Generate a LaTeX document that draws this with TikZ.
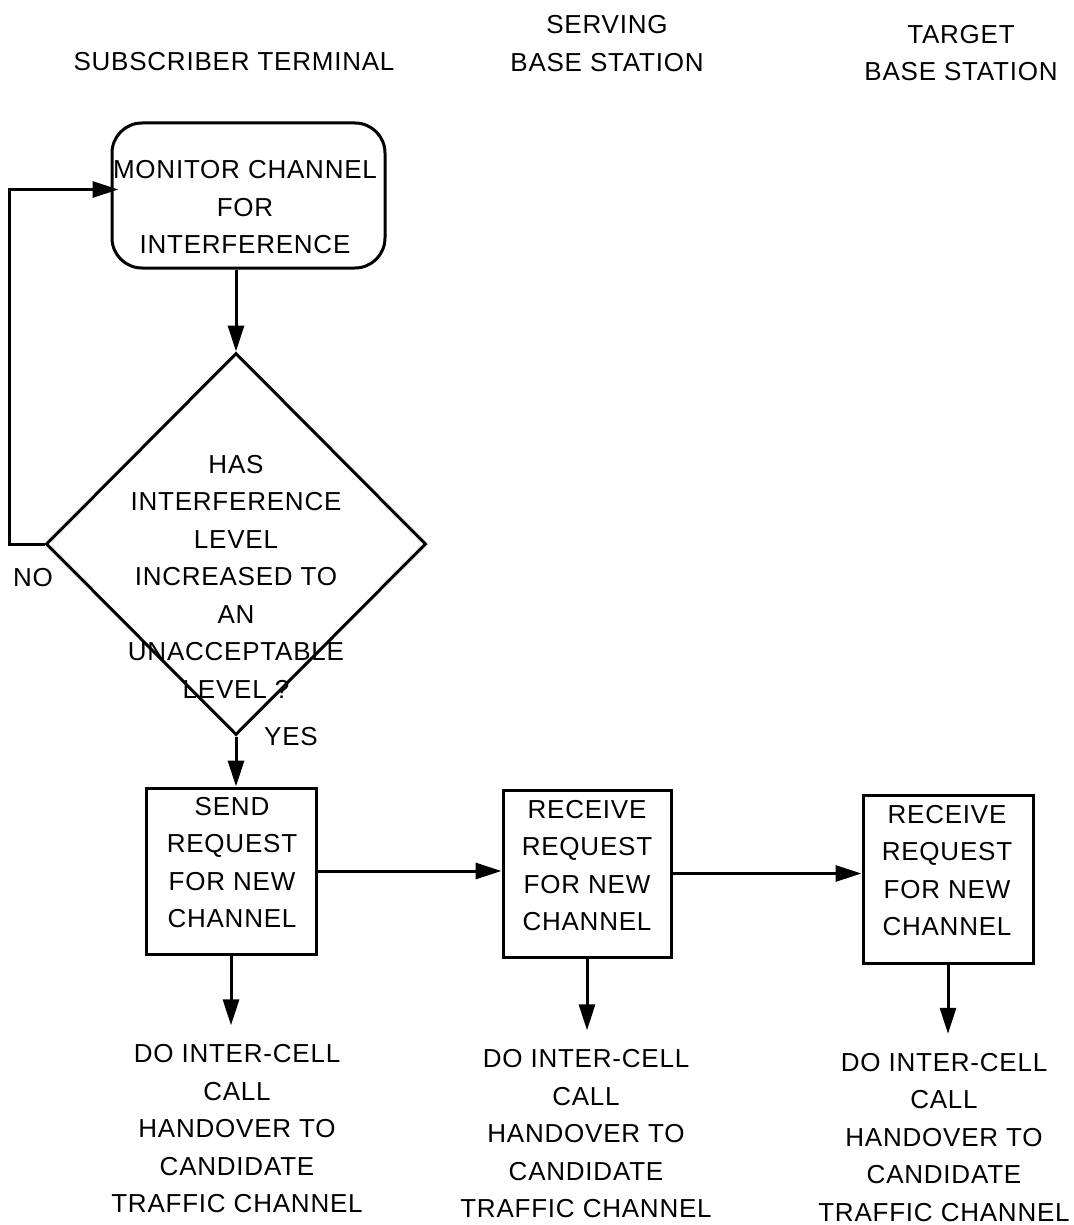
\documentclass[tikz,border=0pt]{standalone}
\usepackage{fontspec}
\setmainfont{Liberation Sans}[LetterSpace=3.0]
\usetikzlibrary{arrows.meta,shapes.geometric}
\begin{document}
\begin{tikzpicture}[x=1pt,y=-1pt, line width=3pt,
  txt/.style={font=\fontsize{26}{37.5}\selectfont, align=center, inner sep=0pt},
  stepbox/.style={draw, rectangle, inner sep=0pt},
  arr/.style={-{Triangle[length=26pt,width=16pt]}}]
\path[use as bounding box, fill=white] (0,0) rectangle (1073,1225);

% headers
\node[txt] (h1) at (234,62) {SUBSCRIBER TERMINAL};
\node[txt] (h2) at (607,43.5) {SERVING\\BASE STATION};
\node[txt] (h3) at (961,53) {TARGET\\BASE STATION};

% monitor box
\node[draw, rectangle, rounded corners=30pt, inner sep=0pt, minimum width=273pt, minimum height=145pt] (mon) at (248.5,195.5) {};
\node[txt] (mont) at (245,207.5) {MONITOR CHANNEL\\FOR\\INTERFERENCE};

% decision
\node[draw, diamond, inner sep=0pt, minimum width=380pt, minimum height=382pt] (dia) at (236,544) {};
\node[txt] (diat) at (236,576.5) {HAS\\INTERFERENCE\\LEVEL\\INCREASED TO\\AN\\UNACCEPTABLE\\LEVEL ?};
\node[txt] (no) at (33,578) {NO};
\node[txt] (yes) at (291,737) {YES};

% request boxes
\node[stepbox, minimum width=170pt, minimum height=166pt] (b1) at (231,871) {};
\node[txt] (b1t) at (232,862.5) {SEND\\REQUEST\\FOR NEW\\CHANNEL};
\node[stepbox, minimum width=168pt, minimum height=167pt] (b2) at (587,873.5) {};
\node[txt] (b2t) at (587,865.5) {RECEIVE\\REQUEST\\FOR NEW\\CHANNEL};
\node[stepbox, minimum width=170pt, minimum height=168pt] (b3) at (948,879) {};
\node[txt] (b3t) at (947,870.5) {RECEIVE\\REQUEST\\FOR NEW\\CHANNEL};

% handover texts
\node[txt] (d1) at (237,1129) {DO INTER-CELL\\CALL\\HANDOVER TO\\CANDIDATE\\TRAFFIC CHANNEL};
\node[txt] (d2) at (586,1134) {DO INTER-CELL\\CALL\\HANDOVER TO\\CANDIDATE\\TRAFFIC CHANNEL};
\node[txt] (d3) at (944,1137.5) {DO INTER-CELL\\CALL\\HANDOVER TO\\CANDIDATE\\TRAFFIC CHANNEL};

% connectors
\draw[arr] (dia.north |- mon.south) -- (dia.north);
\draw[arr] (dia.west) -- ++(-35,0) |- ([yshift=6pt,xshift=8pt]mon.west);
\draw[arr] (dia.south) -- (dia.south |- b1.north);
\draw[arr] (b1.east) -- (b1.east -| b2.west);
\draw[arr] (b2.east) -- (b2.east -| b3.west);
\draw[arr] (b1.south) -- ([yshift=18pt]b1.south |- d1.north);
\draw[arr] (b2.south) -- ([yshift=18pt]b2.south |- d2.north);
\draw[arr] (b3.south) -- ([yshift=18pt]b3.south |- d3.north);
\end{tikzpicture}
\end{document}
